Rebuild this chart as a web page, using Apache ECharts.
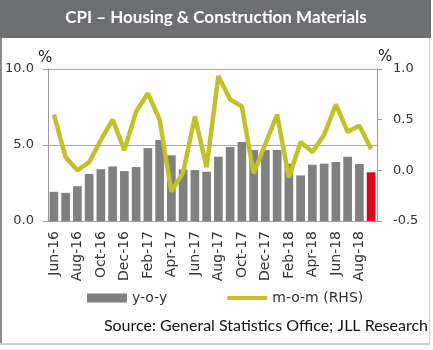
<!DOCTYPE html>
<html>
<head>
<meta charset="utf-8">
<script src="https://cdn.jsdelivr.net/npm/echarts@6/dist/echarts.min.js"></script>
<style>
  html, body { margin: 0; padding: 0; background: #fff; }
  #chart { width: 433px; height: 350px; }
</style>
</head>
<body>
<div id="chart"></div>
<script>
  // months Jun-16 .. Sep-18
  var months = ['Jun-16', 'Jul-16', 'Aug-16', 'Sep-16', 'Oct-16', 'Nov-16', 'Dec-16', 'Jan-17',
    'Feb-17', 'Mar-17', 'Apr-17', 'May-17', 'Jun-17', 'Jul-17', 'Aug-17', 'Sep-17', 'Oct-17',
    'Nov-17', 'Dec-17', 'Jan-18', 'Feb-18', 'Mar-18', 'Apr-18', 'May-18', 'Jun-18', 'Jul-18',
    'Aug-18', 'Sep-18'];
  // y-o-y (%), left axis
  var yoy = [1.92, 1.85, 2.29, 3.10, 3.41, 3.59, 3.28, 3.55, 4.80, 5.33, 4.32, 3.39, 3.35, 3.24,
    4.23, 4.87, 5.20, 4.67, 4.67, 4.67, 3.77, 3.00, 3.70, 3.77, 3.88, 4.23, 3.75, 3.20];
  // m-o-m (%), right axis
  var mom = [0.55, 0.13, 0.00, 0.08, 0.30, 0.50, 0.20, 0.58, 0.76, 0.50, -0.21, -0.02, 0.53, 0.03,
    0.93, 0.70, 0.63, -0.03, 0.26, 0.55, -0.07, 0.28, 0.18, 0.35, 0.65, 0.38, 0.44, 0.21];
  var leftTicks = [0, 10, 5];   // min, max, step
  var rightTicks = [-0.5, 1.0, 0.5];

  var barData = yoy.map(function(v, i) {
    // latest month highlighted in red
    if (i == yoy.length - 1) return { value: v, itemStyle: { color: '#e0001b' } };
    return v;
  });

  var chart = echarts.init(document.getElementById('chart'));
  chart.setOption({
    animation: false,
    textStyle: { fontFamily: 'DejaVu Sans' },
    grid: { left: 48, right: 56, top: 69, bottom: 129 },
    graphic: [
      { type: 'rect', shape: { x: 0, y: 0, width: 431, height: 38 }, style: { fill: '#6d6e71' } },
      { type: 'rect', shape: { x: 0, y: 38, width: 2, height: 307 }, style: { fill: '#8a8a8a' } },
      { type: 'rect', shape: { x: 429, y: 38, width: 1, height: 307 }, style: { fill: '#cfcfcf' } },
      { type: 'rect', shape: { x: 0, y: 343, width: 430, height: 2 }, style: { fill: '#cfcfcf' } },
      {
        type: 'text', x: 216, y: 9,
        style: { text: 'CPI – Housing & Construction Materials', fill: '#fff', align: 'center',
          font: 'bold 17px Lato' }
      },
      { type: 'text', x: 38, y: 51, style: { text: '%', fill: '#222', font: '15px "DejaVu Sans"' } },
      { type: 'text', x: 378, y: 50, style: { text: '%', fill: '#222', font: '15px "DejaVu Sans"' } },
      {
        type: 'text', x: 428, y: 318,
        style: { text: 'Source: General Statistics Office; JLL Research', fill: '#111', align: 'right',
          font: '16px Lato' }
      }
    ],
    legend: {
      left: 87, top: 291, padding: 0,
      itemWidth: 40, itemHeight: 9, itemGap: 58,
      textStyle: { fontSize: 14, color: '#333', fontFamily: 'DejaVu Sans' },
      data: [{ name: 'y-o-y', icon: 'rect' },
        { name: 'm-o-m (RHS)', itemStyle: { opacity: 0 }, lineStyle: { width: 4 } }]
    },
    xAxis: {
      type: 'category',
      data: months,
      axisLine: { lineStyle: { color: '#9a9a9a', width: 1 } },
      axisTick: { interval: 0, length: 4, lineStyle: { color: '#9a9a9a' } },
      axisLabel: { interval: 1, rotate: 90, margin: 10, fontSize: 14, color: '#333' }
    },
    yAxis: [{
      type: 'value',
      min: leftTicks[0], max: leftTicks[1], interval: leftTicks[2],
      axisLine: { show: true, lineStyle: { color: '#9a9a9a' } },
      axisTick: { show: true, length: 5, lineStyle: { color: '#9a9a9a' } },
      splitLine: { lineStyle: { color: '#a8a8a8' } },
      axisLabel: { margin: 14, fontSize: 13, color: '#333',
        formatter: function(v) { return v.toFixed(1); } }
    }, {
      type: 'value',
      min: rightTicks[0], max: rightTicks[1], interval: rightTicks[2],
      axisLine: { show: true, lineStyle: { color: '#9a9a9a' } },
      axisTick: { show: true, length: 5, lineStyle: { color: '#9a9a9a' } },
      splitLine: { show: false },
      axisLabel: { margin: 16, fontSize: 13, color: '#333',
        formatter: function(v) { return v.toFixed(1); } }
    }],
    series: [{
      name: 'y-o-y',
      type: 'bar',
      data: barData,
      barCategoryGap: '26%',
      itemStyle: { color: '#808080' }
    }, {
      name: 'm-o-m (RHS)',
      type: 'line',
      yAxisIndex: 1,
      data: mom,
      symbol: 'none',
      lineStyle: { color: '#c1c22a', width: 4.5 },
      itemStyle: { color: '#c1c22a' }
    }]
  });
</script>
</body>
</html>
